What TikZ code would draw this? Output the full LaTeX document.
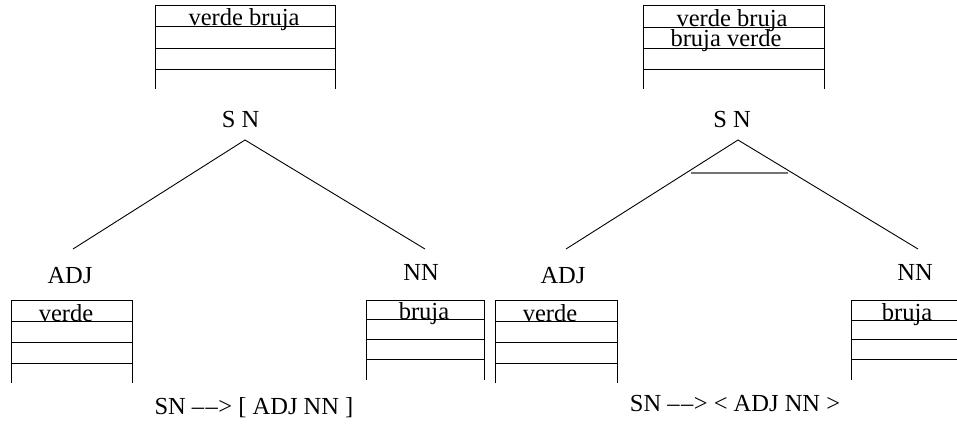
\documentclass[tikz,border=0pt]{standalone}
\usepackage{fontspec}
\setmainfont{Liberation Serif}
\newcommand{\dashdashgt}{\textendash\kern1.5pt\textendash\kern0.5pt>}
\begin{document}
\begin{tikzpicture}[x=1pt,y=-1pt,
  lbl/.style={anchor=base,inner sep=0pt,font=\fontsize{24.5}{29}\selectfont},
  ln/.style={line width=0.9pt,black},
  bar/.style={line width=1.5pt,black!55},
]
\useasboundingbox (0,0) rectangle (957,425);

% ---------- feature boxes ----------
% top left
\draw[ln] (155,5) -- (335,5) (155,26) -- (335,26) (155,48) -- (335,48) (155,69) -- (335,69)
          (155,5) -- (155,89) (335,5) -- (335,89);
% top right
\draw[ln] (643,5) -- (824,5) (643,27) -- (824,27) (643,48) -- (824,48) (643,69) -- (824,69)
          (643,5) -- (643,89) (824,5) -- (824,89);
% left ADJ
\draw[ln] (11,300) -- (132,300) (11,321) -- (132,321) (11,342) -- (132,342) (11,363) -- (132,363)
          (11,300) -- (11,383) (132,300) -- (132,383);
% left NN
\draw[ln] (366,300) -- (484,300) (366,319) -- (484,319) (366,339) -- (484,339) (366,359) -- (484,359)
          (366,300) -- (366,380) (484,300) -- (484,380);
% right ADJ
\draw[ln] (495,300) -- (617,300) (495,321) -- (617,321) (495,342) -- (617,342) (495,363) -- (617,363)
          (495,300) -- (495,383) (617,300) -- (617,383);
% right NN (cut off at the right edge)
\draw[ln] (851,300) -- (957,300) (851,320) -- (957,320) (851,339) -- (957,339) (851,359) -- (957,359)
          (851,300) -- (851,380);

% ---------- box texts ----------
\node[lbl] (tl1) at (244,26) {verde bruja};
\node[lbl] (tr1) at (732,27) {verde bruja};
\node[lbl] (tr2) at (726,47) {bruja verde};
\node[lbl] (bl1) at (66,321) {verde};
\node[lbl] (bl2) at (424,319) {bruja};
\node[lbl] (br1) at (550,321) {verde};
\node[lbl] (br2) at (907,320) {bruja};

% ---------- tree labels ----------
\node[lbl] (snL) at (240.5,128) {S N};
\node[lbl] (snR) at (732,128) {S N};
\node[lbl] (adjL) at (70,283) {ADJ};
\node[lbl] (nnL) at (421,280) {NN};
\node[lbl] (adjR) at (563,283) {ADJ};
\node[lbl] (nnR) at (915,280) {NN};

% ---------- tree branches ----------
\coordinate (apL) at (245,140);
\coordinate (lL) at (73,249);
\coordinate (rL) at (425,249);
\draw[ln] (lL) -- (apL) -- (rL);

\coordinate (apR) at (738,140);
\coordinate (lR) at (566,249);
\coordinate (rR) at (918,249);
\draw[ln] (lR) -- (apR) -- (rR);
\coordinate (b1) at (691,173);
\coordinate (b2) at (788,173);
\draw[bar] (b1) -- (b2);

% ---------- rules ----------
\node[lbl] (ruleL) at (254,414) {SN \dashdashgt{} [ ADJ NN ]};
\node[lbl] (ruleR) at (735,411) {SN \dashdashgt{} < ADJ NN >};
\end{tikzpicture}
\end{document}
